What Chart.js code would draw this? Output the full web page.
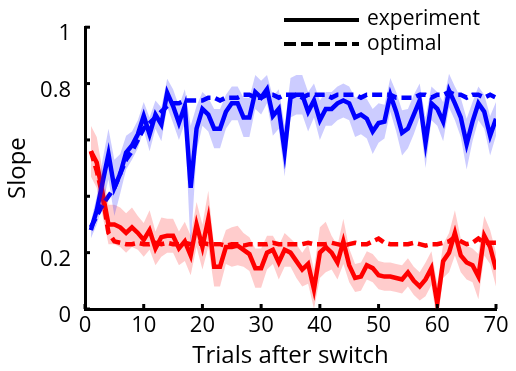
<!DOCTYPE html>
<html>
<head>
<meta charset="utf-8">
<script src="https://cdn.jsdelivr.net/npm/chart.js@4/dist/chart.umd.min.js"></script>
<style>
  html, body { margin: 0; padding: 0; background: #fff; }
  #wrap { width: 516px; height: 371px; }
</style>
</head>
<body>
<div id="wrap"><canvas id="c" width="516" height="371"></canvas></div>
<script>
// trial index after the switch
const trials = [1,2,3,4,5,6,7,8,9,10,11,12,13,14,15,16,17,18,19,20,
  21,22,23,24,25,26,27,28,29,30,31,32,33,34,35,36,37,38,39,40,
  41,42,43,44,45,46,47,48,49,50,51,52,53,54,55,56,57,58,59,60,
  61,62,63,64,65,66,67,68,69,70];

const blueExp = [0.28,0.35,0.45,0.55,0.43,0.48,0.555,0.58,0.62,0.685,
  0.62,0.69,0.655,0.767,0.72,0.66,0.72,0.43,0.64,0.71,
  0.69,0.64,0.64,0.70,0.73,0.73,0.68,0.68,0.77,0.75,
  0.78,0.685,0.71,0.56,0.75,0.76,0.76,0.70,0.74,0.67,
  0.71,0.71,0.73,0.74,0.73,0.68,0.69,0.675,0.63,0.66,
  0.665,0.76,0.70,0.625,0.64,0.69,0.74,0.59,0.73,0.71,
  0.665,0.775,0.73,0.68,0.585,0.665,0.73,0.70,0.615,0.675];
const blueErr = [0.03,0.05,0.08,0.09,0.10,0.07,0.06,0.05,0.05,0.05,
  0.06,0.05,0.06,0.05,0.06,0.06,0.06,0.22,0.08,0.06,
  0.06,0.07,0.07,0.06,0.06,0.06,0.07,0.07,0.06,0.06,
  0.05,0.07,0.07,0.09,0.07,0.07,0.07,0.07,0.06,0.07,
  0.06,0.06,0.06,0.06,0.06,0.07,0.07,0.07,0.08,0.07,
  0.06,0.06,0.07,0.08,0.07,0.07,0.06,0.09,0.06,0.06,
  0.07,0.06,0.06,0.07,0.09,0.07,0.06,0.06,0.07,0.06];
const blueOpt = [0.29,0.33,0.37,0.40,0.43,0.48,0.53,0.56,0.60,0.64,
  0.66,0.68,0.70,0.72,0.73,0.73,0.74,0.74,0.74,0.74,
  0.75,0.75,0.74,0.75,0.75,0.75,0.76,0.76,0.75,0.75,
  0.76,0.76,0.75,0.76,0.76,0.76,0.75,0.76,0.76,0.76,
  0.76,0.75,0.76,0.76,0.76,0.76,0.75,0.76,0.76,0.76,
  0.76,0.76,0.75,0.75,0.75,0.75,0.76,0.76,0.75,0.76,
  0.76,0.77,0.76,0.76,0.75,0.76,0.76,0.75,0.76,0.75];

const redExp = [0.56,0.52,0.41,0.30,0.30,0.29,0.27,0.29,0.27,0.245,
  0.28,0.215,0.255,0.26,0.26,0.215,0.24,0.19,0.30,0.22,
  0.32,0.15,0.15,0.22,0.22,0.225,0.21,0.195,0.145,0.145,
  0.20,0.21,0.165,0.21,0.20,0.17,0.14,0.16,0.07,0.20,
  0.22,0.20,0.165,0.24,0.155,0.11,0.115,0.155,0.145,0.12,
  0.115,0.115,0.11,0.105,0.13,0.10,0.08,0.105,0.145,0.02,
  0.17,0.20,0.27,0.19,0.165,0.155,0.115,0.26,0.22,0.14];
const redErr = [0.09,0.09,0.08,0.07,0.07,0.07,0.07,0.07,0.06,0.06,
  0.07,0.06,0.07,0.06,0.06,0.06,0.07,0.07,0.08,0.08,
  0.10,0.07,0.07,0.06,0.07,0.07,0.06,0.06,0.07,0.07,
  0.06,0.05,0.06,0.06,0.05,0.06,0.06,0.07,0.07,0.09,
  0.09,0.06,0.06,0.08,0.06,0.05,0.05,0.05,0.05,0.05,
  0.05,0.05,0.05,0.05,0.05,0.05,0.05,0.06,0.06,0.07,
  0.06,0.07,0.08,0.06,0.06,0.06,0.08,0.07,0.06,0.06];
const redOpt = [0.56,0.49,0.40,0.27,0.24,0.235,0.23,0.23,0.235,0.23,
  0.23,0.235,0.23,0.235,0.23,0.23,0.235,0.23,0.23,0.235,
  0.23,0.23,0.23,0.225,0.23,0.23,0.225,0.23,0.23,0.23,
  0.23,0.235,0.23,0.23,0.23,0.23,0.23,0.235,0.23,0.23,
  0.23,0.235,0.23,0.225,0.23,0.235,0.23,0.23,0.24,0.25,
  0.235,0.23,0.23,0.23,0.23,0.235,0.23,0.225,0.23,0.23,
  0.235,0.24,0.255,0.24,0.23,0.235,0.25,0.235,0.235,0.235];

const xTicks = [0, 10, 20, 30, 40, 50, 60, 70];
const yLabelled = [0, 0.2, 0.8, 1];

const FONT = '"Open Sans", sans-serif';

function pts(vals, off) {
  return trials.map((t, i) => ({ x: t, y: vals[i] + (off ? off[i] : 0) }));
}
function neg(arr) { return arr.map(v => -v); }

// black inward tick marks + legend, drawn on top
const axisDecor = {
  id: 'axisDecor',
  afterDraw(chart) {
    const ctx = chart.ctx;
    const xs = chart.scales.x, ys = chart.scales.y;
    const area = chart.chartArea;
    ctx.save();
    ctx.strokeStyle = '#000';
    ctx.lineWidth = 3;
    xTicks.forEach(v => {
      const px = xs.getPixelForValue(v);
      ctx.beginPath();
      ctx.moveTo(px, area.bottom);
      ctx.lineTo(px, area.bottom - 5);
      ctx.stroke();
    });
    ys.ticks.forEach(t => {
      const py = ys.getPixelForValue(t.value);
      ctx.beginPath();
      ctx.moveTo(area.left, py);
      ctx.lineTo(area.left + 5, py);
      ctx.stroke();
    });

    // legend
    ctx.lineWidth = 4;
    ctx.beginPath();
    ctx.moveTo(284, 20); ctx.lineTo(359, 20);
    ctx.stroke();
    ctx.setLineDash([12, 5]);
    ctx.beginPath();
    ctx.moveTo(284, 44); ctx.lineTo(359, 44);
    ctx.stroke();
    ctx.setLineDash([]);
    ctx.fillStyle = '#000';
    ctx.font = '21px ' + FONT;
    ctx.textBaseline = 'middle';
    ctx.fillText('experiment', 367, 19);
    ctx.fillText('optimal', 367, 44);
    ctx.restore();
  }
};

const band = (data, color, fill) => ({
  data, borderWidth: 0, pointRadius: 0, backgroundColor: color, fill, tension: 0
});
const line = (data, color, dash) => ({
  data, borderColor: color, borderWidth: 4.5, borderDash: dash || [],
  pointRadius: 0, fill: false, tension: 0
});

new Chart(document.getElementById('c'), {
  type: 'line',
  data: {
    datasets: [
      band(pts(blueExp, blueErr), 'rgba(0,0,255,0.2)', '+1'),
      band(pts(blueExp, neg(blueErr)), 'rgba(0,0,255,0.2)', false),
      band(pts(redExp, redErr), 'rgba(255,0,0,0.2)', '+1'),
      band(pts(redExp, neg(redErr)), 'rgba(255,0,0,0.2)', false),
      line(pts(blueOpt), '#0000ff', [10, 5]),
      line(pts(blueExp), '#0000ff'),
      line(pts(redOpt), '#ff0000', [10, 5]),
      line(pts(redExp), '#ff0000')
    ]
  },
  options: {
    responsive: false,
    animation: false,
    layout: { padding: { left: 0, right: 20, top: 26, bottom: 0 } },
    plugins: { legend: { display: false }, tooltip: { enabled: false } },
    scales: {
      x: {
        type: 'linear', min: 0, max: 70,
        afterBuildTicks(s) { s.ticks = xTicks.map(v => ({ value: v })); },
        afterFit(s) { s.height = 62; },
        grid: { display: false, drawTicks: false },
        border: { display: true, color: '#000', width: 3 },
        ticks: { color: '#000', font: { family: FONT, size: 22 }, padding: 4, maxRotation: 0 },
        title: { display: true, text: 'Trials after switch', color: '#000',
          font: { family: FONT, size: 24 }, padding: { top: 0, bottom: 0 } }
      },
      y: {
        min: 0, max: 1,
        ticks: {
          stepSize: 0.1, color: '#000', padding: 14, labelOffset: 7,
          font: { family: FONT, size: 22 },
          callback(v) {
            const r = Math.round(v * 10) / 10;
            return yLabelled.includes(r) ? String(r) : '';
          }
        },
        afterFit(s) { s.width = 85; },
        grid: { display: false, drawTicks: false },
        border: { display: true, color: '#000', width: 3 },
        title: { display: true, text: 'Slope', color: '#000',
          font: { family: FONT, size: 24 }, padding: { top: 4, bottom: 0 } }
      }
    }
  },
  plugins: [axisDecor]
});
</script>
</body>
</html>
